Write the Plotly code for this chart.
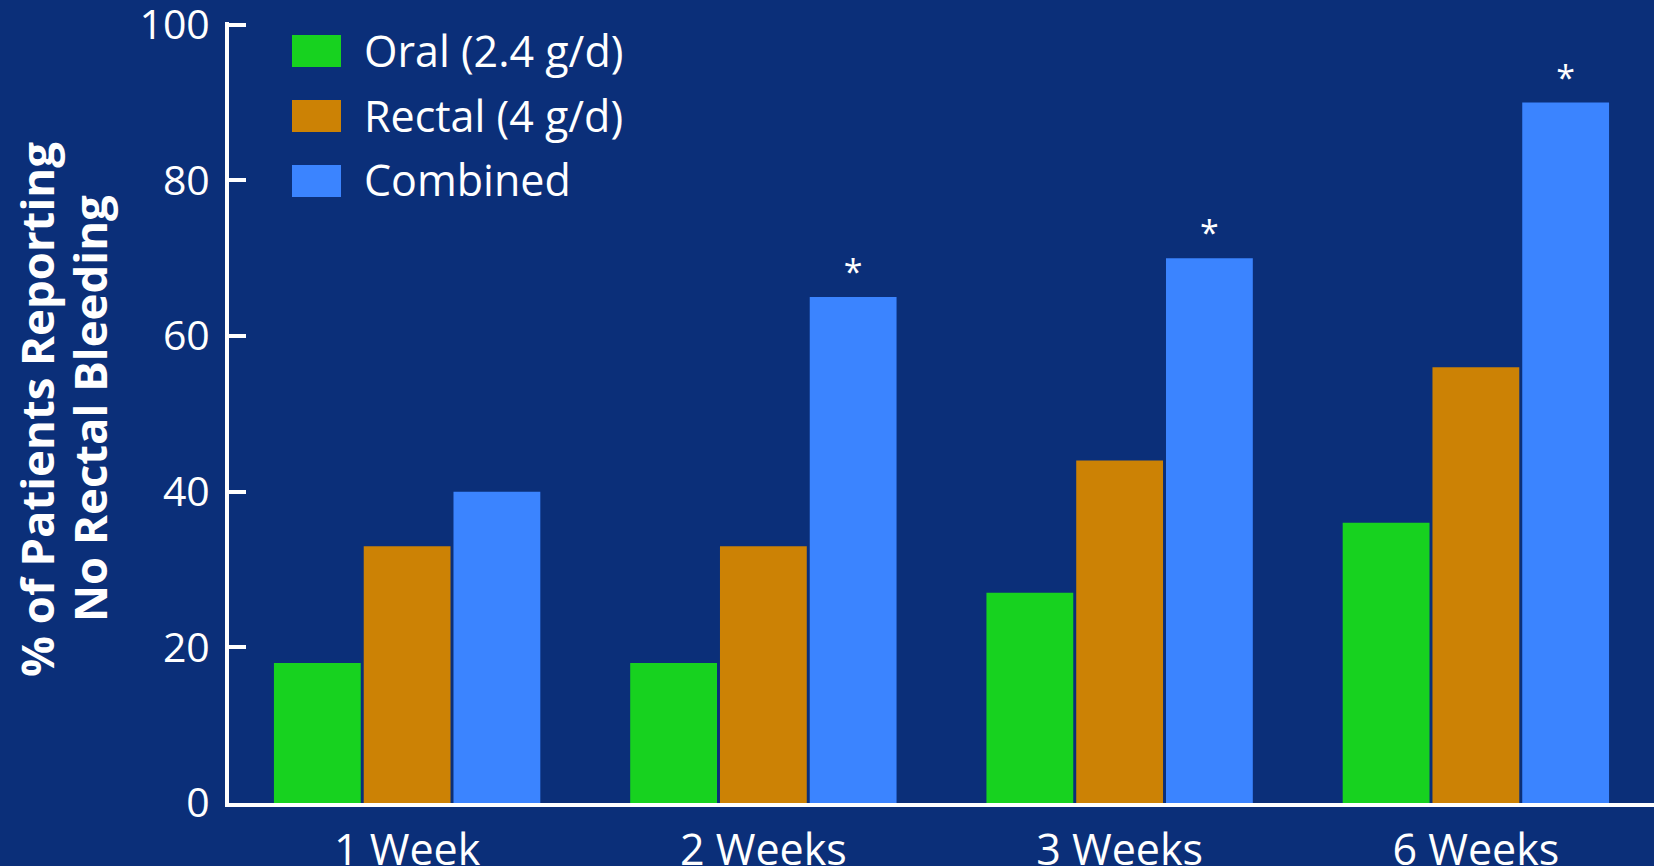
import plotly.graph_objects as go

categories = ["1 Week", "2 Weeks", "3 Weeks", "6 Weeks"]
series_names = ["Oral (2.4 g/d)", "Rectal (4 g/d)", "Combined"]
oral = [18, 18, 27, 36]
rectal = [33, 33, 44, 56]
combined = [40, 65, 70, 90]
combined_sig = ["", "*", "*", "*"]
y_ticks = [0, 20, 40, 60, 80, 100]
y_title_lines = ["% of Patients Reporting", "No Rectal Bleeding"]

BG = "rgb(11,47,121)"
colors = ["#17d21f", "#cc8205", "#3b84ff"]
FONT = "Open Sans"

fig = go.Figure()
values = [oral, rectal, combined]
texts = [None, None, combined_sig]
for name, vals, col, txt in zip(series_names, values, colors, texts):
    fig.add_trace(go.Bar(
        x=categories, y=vals, name=name,
        marker=dict(color=col, line=dict(width=0)),
        text=txt, textposition="outside" if txt else "none",
        textfont=dict(family=FONT, size=34, color="white"),
        cliponaxis=False, showlegend=False,
    ))

# custom legend (large swatches as in the original)
W, H = 1654, 866
ml, mr, mt, mb = 229, 0, 22, 63
pw, ph = W - ml - mr, H - mt - mb
def px_x(p):
    return (p - ml) / pw
def px_y(p):
    return (H - mb - p) / ph

shapes = []
annotations = []
for i, (name, col) in enumerate(zip(series_names, colors)):
    top = 35 + i * 65
    shapes.append(dict(type="rect", xref="paper", yref="paper",
                       x0=px_x(292), x1=px_x(341), y0=px_y(top + 32), y1=px_y(top),
                       fillcolor=col, line=dict(width=0)))
    annotations.append(dict(xref="paper", yref="paper", x=px_x(362), y=px_y(top + 15),
                            xanchor="left", yanchor="middle", showarrow=False,
                            text=name, font=dict(family=FONT, size=43, color="white")))

for line, cx in zip(y_title_lines, [36, 89]):
    annotations.append(dict(xref="paper", yref="paper", x=px_x(cx), y=px_y(409),
                            xanchor="center", yanchor="middle", showarrow=False,
                            textangle=-90, text="<b>" + line + "</b>",
                            font=dict(family=FONT, size=45.5, color="white")))

fig.update_layout(
    width=W, height=H,
    margin=dict(l=ml, r=mr, t=mt, b=mb, pad=0),
    paper_bgcolor=BG, plot_bgcolor=BG,
    barmode="group", bargap=0.244, bargroupgap=0.033,
    shapes=shapes, annotations=annotations,
    xaxis=dict(showline=True, linecolor="white", linewidth=4, ticks="",
               showgrid=False, zeroline=False, automargin=False,
               tickfont=dict(family=FONT, size=43, color="white"),
               ticklabelstandoff=6),
    yaxis=dict(range=[0, 100.35], tickvals=y_ticks, showline=True, linecolor="white",
               linewidth=4, ticks="inside", ticklen=17, tickwidth=4, tickcolor="white",
               showgrid=False, zeroline=False, automargin=False,
               ticklabeloverflow="allow",
               tickfont=dict(family=FONT, size=41, color="white"),
               ticklabelstandoff=7),
)

fig.write_html("out.html")
